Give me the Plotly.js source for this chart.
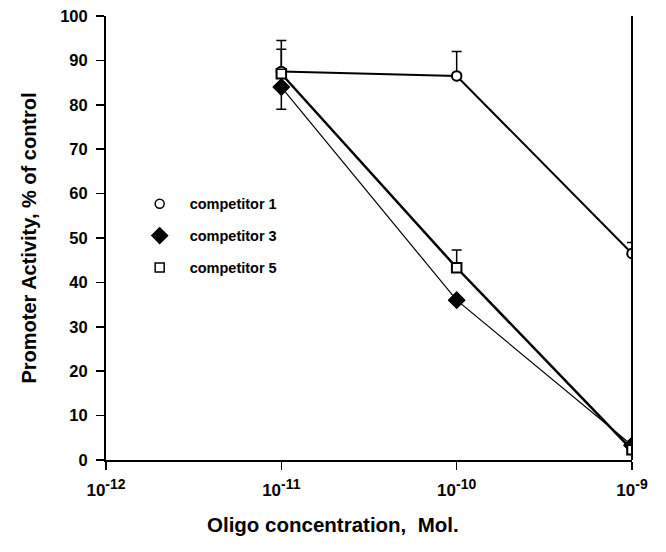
<!DOCTYPE html>
<html>
<head>
<meta charset="utf-8">
<script src="https://cdn.plot.ly/plotly-3.0.1.min.js"></script>
<style>html,body{margin:0;padding:0;background:#fff;}#chart{width:666px;height:552px;}</style>
</head>
<body>
<div id="chart"></div>
<script>
// Data
const concentrations = [1e-11, 1e-10, 1e-9];
const competitor1 = [87.5, 86.5, 46.5];
const competitor1ErrUp = [7, 5.5, 2.5];
const competitor3 = [84, 36, 3.3];
const competitor3ErrDown = [5, 0, 0];
const competitor5 = [87, 43.3, 2.3];
const competitor5ErrUp = [5.5, 4, 0];
const xTickVals = [1e-12, 1e-11, 1e-10, 1e-9];
const xTickExponents = ['-12', '-11', '-10', '-9'];
const yTickVals = [0, 10, 20, 30, 40, 50, 60, 70, 80, 90, 100];
const seriesNames = ['competitor 1', 'competitor 3', 'competitor 5'];
const xTitle = 'Oligo concentration,  Mol.';
const yTitle = 'Promoter Activity, % of control';

const xTickText = xTickExponents.map(e => '10<sup><span style="font-size:14px">' + e + '</span></sup>');

const errStyle = {color: '#000', thickness: 1.5, width: 5};
const mk = (sym, fill, size) => ({symbol: sym, size: size, color: fill, line: {color: '#000', width: 1.5}});

const traces = [
  {x: concentrations, y: competitor3, mode: 'lines+markers', showlegend: false,
   line: {color: '#000', width: 1.2}, marker: mk('diamond', '#000', 12),
   error_y: Object.assign({type: 'data', symmetric: false, array: [0,0,0], arrayminus: competitor3ErrDown}, errStyle)},
  {x: concentrations, y: competitor5, mode: 'lines+markers', showlegend: false,
   line: {color: '#000', width: 2.5}, marker: mk('square', '#fff', 10),
   error_y: Object.assign({type: 'data', symmetric: false, array: competitor5ErrUp, arrayminus: [0,0,0]}, errStyle)},
  {x: concentrations, y: competitor1, mode: 'lines+markers', showlegend: false,
   line: {color: '#000', width: 2}, marker: mk('circle', '#fff', 10),
   error_y: Object.assign({type: 'data', symmetric: false, array: competitor1ErrUp, arrayminus: [0,0,0]}, errStyle)},
  {x: concentrations, y: competitor1, mode: 'markers', name: seriesNames[0], legendgroup: 'a', marker: mk('circle', '#fff', 9), hoverinfo: 'skip'},
  {x: concentrations, y: competitor3, mode: 'markers', name: seriesNames[1], legendgroup: 'b', marker: mk('diamond', '#000', 12), hoverinfo: 'skip'},
  {x: concentrations, y: competitor5, mode: 'markers', name: seriesNames[2], legendgroup: 'c', marker: mk('square', '#fff', 9), hoverinfo: 'skip'}
];

const fontFam = '"Liberation Sans", Arial, Helvetica, sans-serif';
const layout = {
  width: 666, height: 552,
  margin: {l: 106, r: 34, t: 16, b: 92},
  paper_bgcolor: '#fff', plot_bgcolor: '#fff',
  font: {family: fontFam, color: '#000', size: 14, weight: 'bold'},
  showlegend: true,
  legend: {x: 0.045, y: 0.613, xanchor: 'left', yanchor: 'top', traceorder: 'grouped', tracegroupgap: 10,
           bgcolor: 'rgba(0,0,0,0)', font: {size: 14.5, weight: 'bold', family: fontFam}, itemwidth: 50},
  xaxis: {type: 'log', range: [-12, -9], tickvals: xTickVals, ticktext: xTickText,
          showgrid: false, zeroline: false, showline: true, linecolor: '#000', linewidth: 2,
          ticks: 'outside', ticklen: 8, tickwidth: 1.5, tickcolor: '#000', ticklabelstandoff: 6,
          tickfont: {size: 17, weight: 'bold'}},
  yaxis: {range: [0, 100], tickvals: yTickVals, showgrid: false, zeroline: false,
          showline: true, linecolor: '#000', linewidth: 2,
          ticks: 'outside', ticklen: 8, tickwidth: 1.5, tickcolor: '#000', ticklabelstandoff: 5,
          tickfont: {size: 16.5, weight: 'bold'},
          title: {text: yTitle, font: {size: 20, weight: 'bold'}, standoff: 18}},
  annotations: [{text: xTitle, xref: 'paper', yref: 'paper', x: 0.4316, y: -0.146,
                 xanchor: 'center', yanchor: 'middle', showarrow: false,
                 font: {size: 20.5, weight: 'bold', family: fontFam}}],
  shapes: [{type: 'line', xref: 'paper', yref: 'paper', x0: 1, x1: 1, y0: 0, y1: 1,
            line: {color: '#000', width: 2}}]
};

Plotly.newPlot('chart', traces, layout, {displayModeBar: false, staticPlot: true});
</script>
</body>
</html>
